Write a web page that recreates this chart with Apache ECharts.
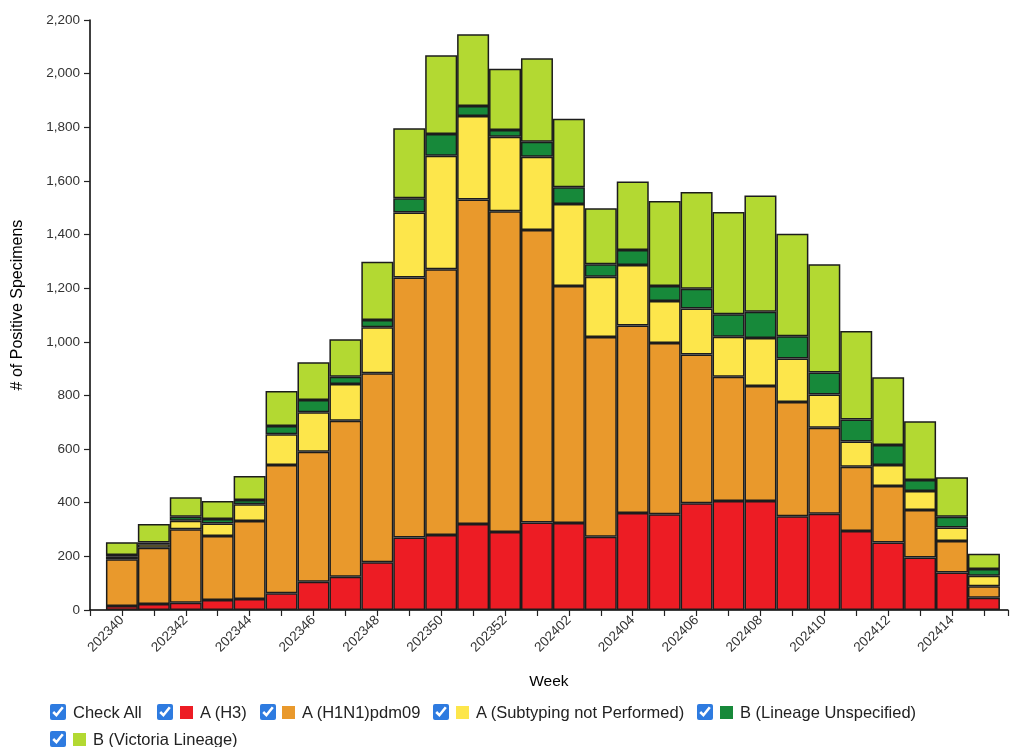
<!DOCTYPE html>
<html>
<head>
<meta charset="utf-8">
<script src="https://cdn.jsdelivr.net/npm/echarts@6/dist/echarts.min.js"></script>
<style>
  html, body { margin:0; padding:0; background:#fff; width:1010px; height:747px; overflow:hidden; }
  #chart { position:absolute; left:0; top:0; width:1010px; height:747px; }
  .lg { position:absolute; font-family:"Liberation Sans", Arial, Helvetica, sans-serif; font-size:16.5px; color:#222; line-height:18px; white-space:nowrap; }
  .cb { position:absolute; width:16px; height:16px; margin:0; accent-color:#2e7be0; }
  .sq { position:absolute; width:13px; height:13px; }
</style>
</head>
<body>
<div id="chart"></div>
<div id="legend"></div>
<script>
// ---- Data ----
const weeks = ['202340','202341','202342','202343','202344','202345','202346','202347','202348','202349','202350','202351','202352',
               '202401','202402','202403','202404','202405','202406','202407','202408','202409','202410','202411','202412','202413','202414','202415'];
const seriesNames = ['A (H3)','A (H1N1)pdm09','A (Subtyping not Performed)','B (Lineage Unspecified)','B (Victoria Lineage)'];
const seriesColors = ['#ED1C24','#E9992C','#FDE64B','#17893A','#B3D932'];
const aH3       = [15, 22, 27, 37, 41, 62, 105, 124, 178, 270, 280, 321, 291, 326, 324, 273, 362, 357, 398, 406, 406, 350, 359, 295, 252, 196, 140, 46];
const aH1N1     = [174, 210, 274, 239, 291, 479, 485, 582, 705, 970, 991, 1210, 1196, 1091, 884, 745, 699, 639, 555, 464, 429, 426, 321, 239, 210, 177, 117, 43];
const aNotTyped = [10, 13, 32, 47, 62, 114, 147, 137, 171, 242, 423, 311, 278, 273, 306, 225, 225, 156, 171, 149, 179, 162, 124, 94, 79, 71, 51, 39];
const bUnspec   = [6, 7, 15, 16, 16, 31, 46, 27, 27, 53, 81, 37, 25, 56, 62, 46, 56, 56, 74, 84, 98, 83, 82, 82, 74, 41, 40, 25];
const bVictoria = [48, 69, 72, 67, 90, 131, 141, 140, 218, 261, 294, 268, 228, 311, 256, 209, 256, 317, 361, 381, 434, 382, 403, 330, 253, 219, 147, 57];
const yTicks = [0, 200, 400, 600, 800, 1000, 1200, 1400, 1600, 1800, 2000, 2200];
const allValues = [aH3, aH1N1, aNotTyped, bUnspec, bVictoria];

const FONT = '"Liberation Sans", Arial, Helvetica, sans-serif';
const chart = echarts.init(document.getElementById('chart'), null, { renderer: 'canvas' });

// data rows are [value, weekIndex]; encode maps them so the stack runs on y
const series = seriesNames.map((name, k) => ({
  name: name,
  type: 'bar',
  stack: 'total',
  barWidth: 32,
  encode: { x: 1, y: 0 },
  itemStyle: { color: seriesColors[k], borderColor: '#1c1c1c', borderWidth: 1.5 },
  emphasis: { disabled: true },
  data: allValues[k].map((v, i) => [v, i])
}));

chart.setOption({
  animation: false,
  legend: { show: false, data: seriesNames },
  grid: { left: 90, right: 0, top: 20, bottom: 137, containLabel: false },
  xAxis: {
    type: 'value',
    min: -1,
    max: 27.75,
    interval: 1,
    name: 'Week',
    nameLocation: 'middle',
    nameGap: 64,
    nameTextStyle: { color: '#000', fontSize: 15.5, fontFamily: FONT },
    axisLine: { show: true, onZero: false, lineStyle: { color: '#000', width: 1.5 } },
    axisTick: { show: true, length: 6, lineStyle: { color: '#222', width: 1.2 } },
    splitLine: { show: false },
    axisLabel: {
      rotate: 45,
      margin: 8,
      color: '#333',
      fontSize: 13.5,
      fontFamily: FONT,
      showMinLabel: true,
      showMaxLabel: true,
      hideOverlap: false,
      formatter: function (v) {
        const i = Math.round(v);
        if (Math.abs(v - i) > 1e-6 || i < 0 || i >= weeks.length || i % 2 !== 0) return '';
        return weeks[i];
      }
    }
  },
  yAxis: {
    type: 'value',
    min: yTicks[0],
    max: yTicks[yTicks.length - 1],
    interval: yTicks[1] - yTicks[0],
    name: '# of Positive Specimens',
    nameLocation: 'middle',
    nameGap: 64,
    nameRotate: 90,
    nameTextStyle: { color: '#000', fontSize: 16, fontFamily: FONT, padding: [0, 0, 0, 20] },
    axisLine: { show: true, onZero: false, lineStyle: { color: '#000', width: 1.5 } },
    axisTick: { show: true, length: 6, lineStyle: { color: '#222', width: 1.2 } },
    splitLine: { show: false },
    axisLabel: {
      margin: 10,
      color: '#333',
      fontSize: 13.5,
      fontFamily: FONT,
      formatter: v => v.toLocaleString('en-US')
    }
  },
  series: series
});

// ---- HTML legend with checkboxes ----
const legendItems = [
  { label: 'Check All', cb: 50, sq: null, tx: 73, top: 704 },
  { label: seriesNames[0], cb: 157, sq: 180, tx: 200, top: 704, k: 0 },
  { label: seriesNames[1], cb: 260, sq: 282, tx: 302, top: 704, k: 1 },
  { label: seriesNames[2], cb: 433, sq: 456, tx: 476, top: 704, k: 2 },
  { label: seriesNames[3], cb: 697, sq: 720, tx: 740, top: 704, k: 3 },
  { label: seriesNames[4], cb: 50,  sq: 73,  tx: 93,  top: 731, k: 4 }
];
const lg = document.getElementById('legend');
const boxes = [];
legendItems.forEach(it => {
  const cb = document.createElement('input');
  cb.type = 'checkbox'; cb.checked = true; cb.className = 'cb';
  cb.style.left = it.cb + 'px'; cb.style.top = it.top + 'px';
  lg.appendChild(cb);
  if (it.sq !== null) {
    const sq = document.createElement('div');
    sq.className = 'sq';
    sq.style.left = it.sq + 'px'; sq.style.top = (it.top + 2) + 'px';
    sq.style.background = seriesColors[it.k];
    lg.appendChild(sq);
  }
  const tx = document.createElement('div');
  tx.className = 'lg';
  tx.style.left = it.tx + 'px'; tx.style.top = (it.top - 1) + 'px';
  tx.textContent = it.label;
  lg.appendChild(tx);
  boxes.push({ cb: cb, k: it.k });
});
function applySel() {
  const selected = {};
  boxes.forEach(b => { if (b.k !== undefined) selected[seriesNames[b.k]] = b.cb.checked; });
  chart.setOption({ legend: { selected: selected } });
}
boxes.forEach(b => {
  b.cb.addEventListener('change', () => {
    if (b.k === undefined) {
      boxes.forEach(o => { o.cb.checked = b.cb.checked; });
    } else {
      boxes[0].cb.checked = boxes.slice(1).every(o => o.cb.checked);
    }
    applySel();
  });
});
</script>
</body>
</html>
